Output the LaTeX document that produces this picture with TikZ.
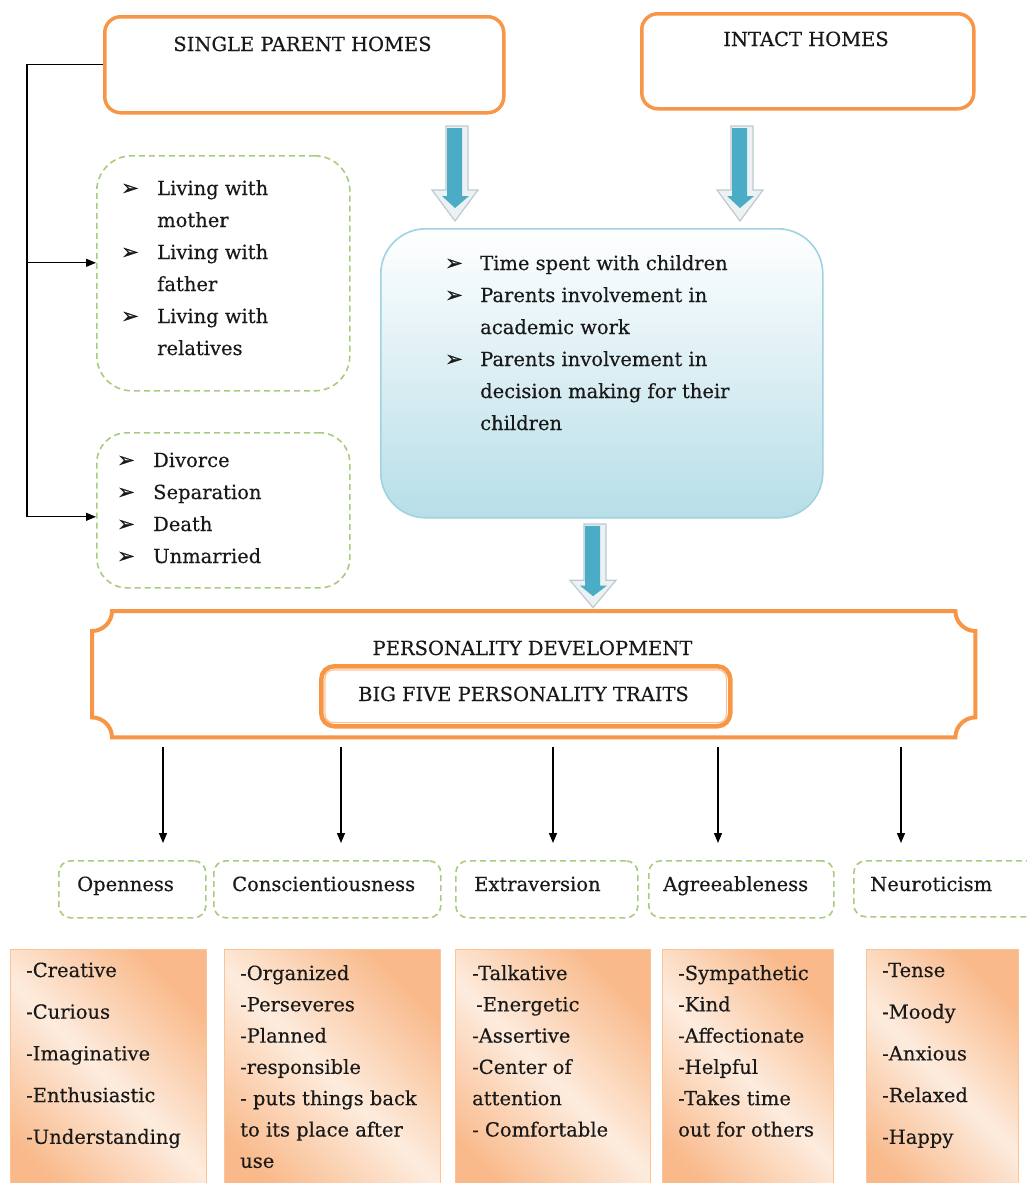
\documentclass[tikz,border=0pt]{standalone}
\usepackage{fontspec}
\setmainfont{DejaVu Serif}[FakeBold=0.35]
\newfontfamily\symfont{DejaVu Sans}[FakeBold=1]
\usetikzlibrary{arrows.meta,calc}
\definecolor{orng}{RGB}{247,150,70}
\definecolor{grn}{RGB}{170,203,125}
\definecolor{blu}{RGB}{75,172,198}
\definecolor{bluebd}{RGB}{160,210,224}
\definecolor{bluefill}{RGB}{183,222,232}
\definecolor{pdark}{RGB}{249,185,138}
\definecolor{plight}{RGB}{253,236,222}
\definecolor{pbord}{RGB}{250,196,150}
\definecolor{agray}{RGB}{190,202,208}
\definecolor{apale}{RGB}{236,241,243}
\newcommand\bul{{\symfont\fontsize{21}{21}\selectfont ➢}}
\tikzset{
  obox/.style={draw=orng, line width=3.5pt, rounded corners=16pt, fill=white, inner sep=0pt, anchor=north west},
  gbox/.style={draw=grn, line width=1.6pt, dash pattern=on 6pt off 4pt, rounded corners=#1, inner sep=0pt, anchor=north west},
  gbox/.default=12pt,
  txt/.style={inner sep=0pt, anchor=base west, text=black!90},
  title/.style={inner sep=0pt, anchor=base, text=black!90},
  arr/.style={-{Triangle[length=10pt,width=8pt]}, line width=1.3pt},
  pbox/.style={draw=pbord, line width=1.2pt, top color=pdark, bottom color=pdark, middle color=plight, shading angle=-45, inner sep=0pt, anchor=north west},
  blockarr/.pic={
    \filldraw[fill=apale, draw=agray, line width=1.2pt] (-9,0) -- (13,0) -- (13,64) -- (23,64) -- (0,95) -- (-23,64) -- (-9,64) -- cycle;
    \fill[blu] (-8,2) -- (7,2) -- (7,70) -- (14,70) -- (0,82) -- (-13,70) -- (-8,70) -- cycle;
  }
}
\begin{document}
\begin{tikzpicture}[x=1pt, y=-1pt, font=\fontsize{19.5}{32}\selectfont]
\useasboundingbox (0,0) rectangle (1027,1183);
\clip (0,0) rectangle (1027,1183);
\fill[white] (0,0) rectangle (1027,1183);

% top boxes
\node[obox, minimum width=399pt, minimum height=96pt] (sp) at (103,15) {};
\node[title] (spt) at (302.5,51) {SINGLE PARENT HOMES};
\node[obox, minimum width=332pt, minimum height=95pt] (ih) at (640,12) {};
\node[title] (iht) at (806,46) {INTACT HOMES};

% left boxes
\node[gbox=35pt, minimum width=253pt, minimum height=235pt] (lb1) at (96,155) {};
\node[gbox=30pt, minimum width=253pt, minimum height=155pt] (lb2) at (96,432) {};
\node[txt] (lt1) at (121,195) {\begin{tabular}[t]{@{}p{36pt}@{}l@{}}
\bul & Living with\\ & mother\\ \bul & Living with\\ & father\\ \bul & Living with\\ & relatives\end{tabular}};
\node[txt] (lt2) at (117,467) {\begin{tabular}[t]{@{}p{36pt}@{}l@{}}
\bul & Divorce\\ \bul & Separation\\ \bul & Death\\ \bul & Unmarried\end{tabular}};

% bracket
\coordinate (bx) at (27,0);
\coordinate (e1) at ([yshift=10.5pt]lb1.west);
\coordinate (e2) at ([yshift=-6.5pt]lb2.west);
\draw[line width=1.3pt] (sp.west) -| (bx |- e2);
\draw[arr] (bx |- e1) -- (e1);
\draw[arr] (bx |- e2) -- (e2);

% blue box
\node[draw=bluebd, line width=1.6pt, rounded corners=45pt, top color=white, bottom color=bluefill, minimum width=442pt, minimum height=289pt, inner sep=0pt, anchor=north west] (bb) at (380,228) {};
\node[txt] (bt) at (445,270) {\begin{tabular}[t]{@{}p{35pt}@{}l@{}}
\bul & Time spent with  children\\ \bul & Parents involvement in\\ & academic work\\ \bul & Parents involvement in\\ & decision making for their\\ & children\end{tabular}};

% block arrows
\pic at (455,126) {blockarr};
\pic at (740,126) {blockarr};
\pic[yscale=0.88] at (593,524) {blockarr};

% personality development
\node[inner sep=0pt, minimum width=883pt, minimum height=126pt, anchor=north west] (pd) at (92,611) {};
\filldraw[draw=orng, fill=white, line width=4pt]
  ($(pd.north west)+(20,0)$) -- ($(pd.north east)+(-20,0)$)
  .. controls ($(pd.north east)+(-20,11)$) and ($(pd.north east)+(-11,20)$) .. ($(pd.north east)+(0,20)$)
  -- ($(pd.south east)+(0,-20)$)
  .. controls ($(pd.south east)+(-11,-20)$) and ($(pd.south east)+(-20,-11)$) .. ($(pd.south east)+(-20,0)$)
  -- ($(pd.south west)+(20,0)$)
  .. controls ($(pd.south west)+(20,-11)$) and ($(pd.south west)+(11,-20)$) .. ($(pd.south west)+(0,-20)$)
  -- ($(pd.north west)+(0,20)$)
  .. controls ($(pd.north west)+(11,20)$) and ($(pd.north west)+(20,11)$) .. cycle;
\node[title] (pdt) at (532.5,655) {PERSONALITY DEVELOPMENT};
\node[draw=orng, line width=4.5pt, rounded corners=13pt, minimum width=409pt, minimum height=60pt, anchor=north west, inner sep=0pt] (bf) at (319,664) {};
\draw[orng!55, line width=1.3pt, rounded corners=8pt] ($(bf.north west)+(6,6)$) rectangle ($(bf.south east)+(-6,-6)$);
\node[title] (bft) at (523.5,701) {BIG FIVE PERSONALITY TRAITS};

% trait boxes
\node[gbox, minimum width=147pt, minimum height=57pt] (op) at (58,860) {};
\node[gbox, minimum width=227pt, minimum height=57pt] (cs) at (213,860) {};
\node[gbox, minimum width=182pt, minimum height=57pt] (ex) at (455,860) {};
\node[gbox, minimum width=185pt, minimum height=57pt] (ag) at (648,860) {};
\node[gbox, minimum width=200pt, minimum height=56pt] (ne) at (853,860) {};
\node[txt] (opt) at (77,891) {Openness};
\node[txt] (cst) at (232,891) {Conscientiousness};
\node[txt] (ext) at (474,891) {Extraversion};
\node[txt] (agt) at (663,891) {Agreeableness};
\node[txt] (net) at (870,891) {Neuroticism};

% arrows to traits
\coordinate (t1) at (163,0);
\coordinate (t2) at (341,0);
\coordinate (t3) at (553,0);
\coordinate (t4) at (718,0);
\coordinate (t5) at (901,0);
\draw[arr] ($(pd.south -| t1)+(0,10)$) -- ($(t1 |- op.north)+(0,-17)$);
\draw[arr] ($(pd.south -| t2)+(0,10)$) -- ($(t2 |- cs.north)+(0,-17)$);
\draw[arr] ($(pd.south -| t3)+(0,10)$) -- ($(t3 |- ex.north)+(0,-17)$);
\draw[arr] ($(pd.south -| t4)+(0,10)$) -- ($(t4 |- ag.north)+(0,-17)$);
\draw[arr] ($(pd.south -| t5)+(0,10)$) -- ($(t5 |- ne.north)+(0,-17)$);

% description boxes
\node[pbox, minimum width=196pt, minimum height=260pt] (d1) at (10,949) {};
\node[pbox, minimum width=216pt, minimum height=260pt] (d2) at (224,949) {};
\node[pbox, minimum width=195pt, minimum height=260pt] (d3) at (455,949) {};
\node[pbox, minimum width=171pt, minimum height=260pt] (d4) at (662,949) {};
\node[pbox, minimum width=152pt, minimum height=260pt] (d5) at (866,949) {};
\node[txt, font=\fontsize{19.5}{41.7}\selectfont] (d1t) at (26,977) {\begin{tabular}[t]{@{}l@{}}-Creative\\-Curious\\-Imaginative\\-Enthusiastic\\-Understanding\end{tabular}};
\node[txt, font=\fontsize{19.5}{31.3}\selectfont] (d2t) at (240,980) {\begin{tabular}[t]{@{}l@{}}-Organized\\-Perseveres\\-Planned\\-responsible\\- puts things back\\to its place after\\use\end{tabular}};
\node[txt, font=\fontsize{19.5}{31.3}\selectfont] (d3t) at (472,980) {\begin{tabular}[t]{@{}l@{}}-Talkative\\\hspace{4pt}-Energetic\\-Assertive\\-Center of\\attention\\- Comfortable\end{tabular}};
\node[txt, font=\fontsize{19.5}{31.3}\selectfont] (d4t) at (678,980) {\begin{tabular}[t]{@{}l@{}}-Sympathetic\\-Kind\\-Affectionate\\-Helpful\\-Takes time\\out for others\end{tabular}};
\node[txt, font=\fontsize{19.5}{41.7}\selectfont] (d5t) at (882,977) {\begin{tabular}[t]{@{}l@{}}-Tense\\-Moody\\-Anxious\\-Relaxed\\-Happy\end{tabular}};
\end{tikzpicture}
\end{document}
